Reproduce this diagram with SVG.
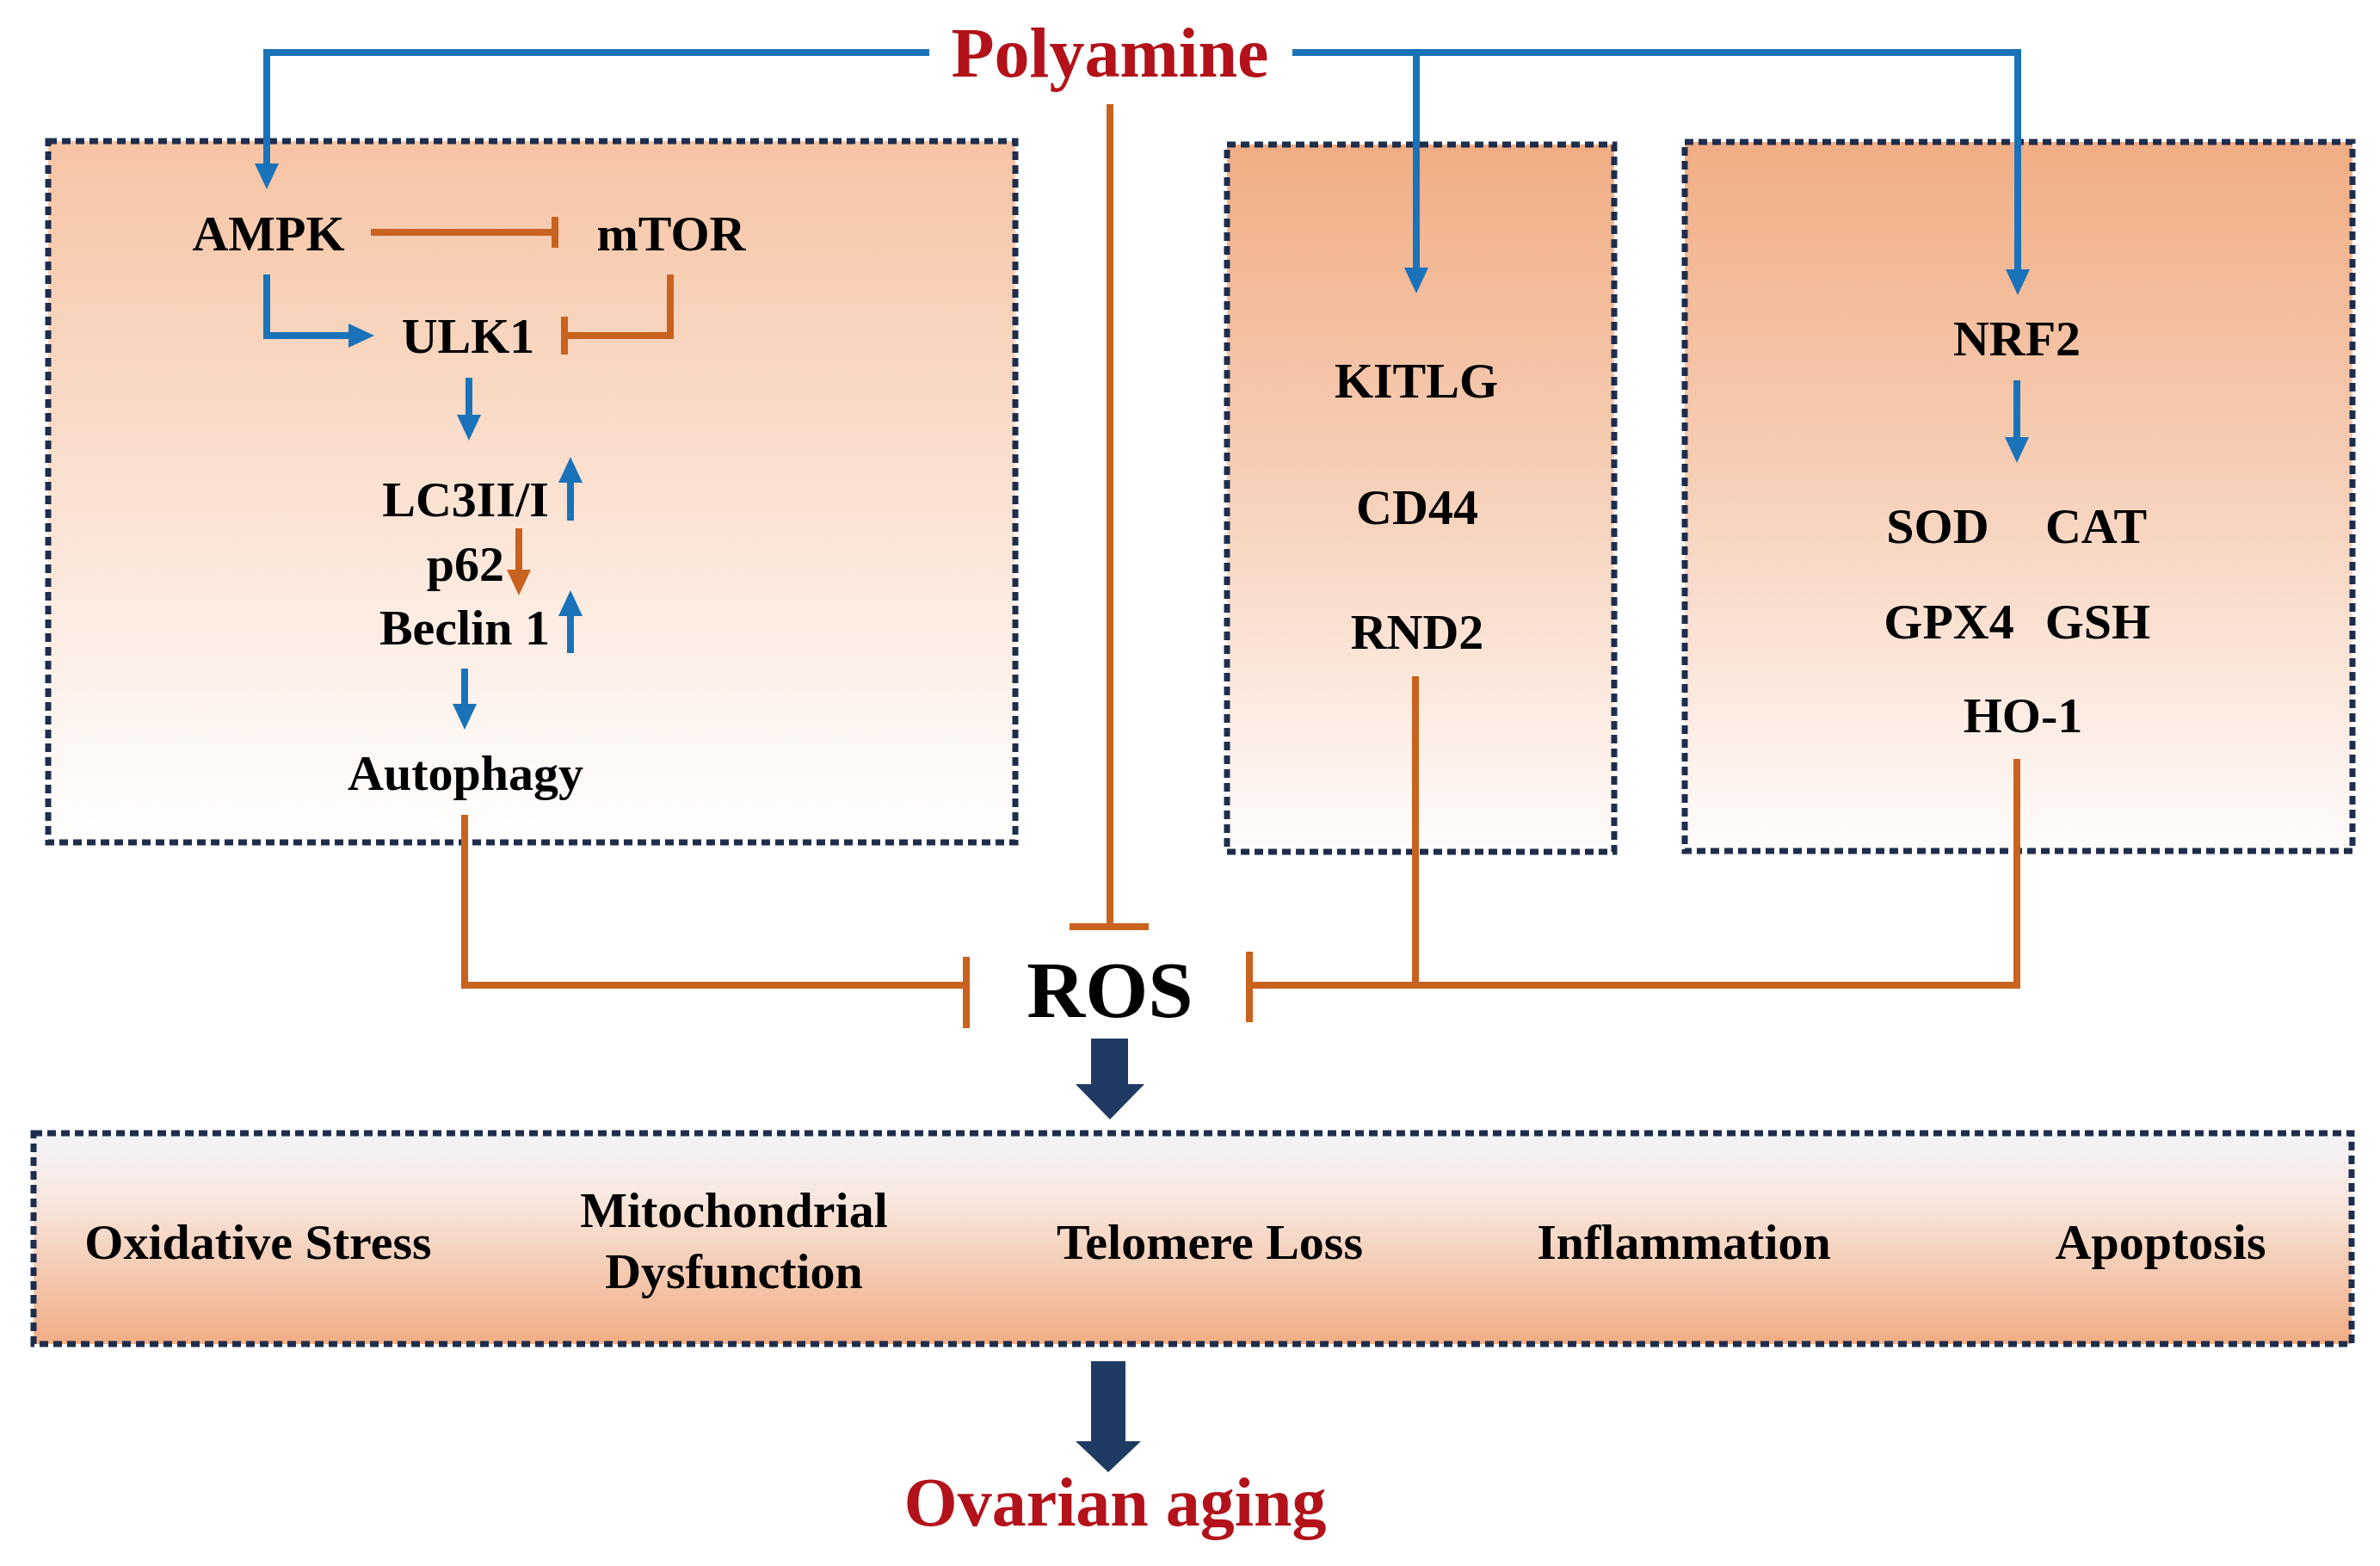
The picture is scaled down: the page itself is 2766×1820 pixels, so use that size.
<svg xmlns="http://www.w3.org/2000/svg" width="2766" height="1820" viewBox="0 0 2766 1820">
  <style>
    .t { font-family: "Liberation Serif", "Times New Roman", serif; font-weight: bold; fill: #000; text-anchor: middle; }
    .n { font-size: 58px; }
    .red { fill: #b3121a; }
    .box { stroke: #1f2d4d; stroke-width: 7; stroke-dasharray: 10 6; }
    .blue { fill: none; stroke: #1a73b9; stroke-width: 8; }
    .orange { fill: none; stroke: #c8621f; stroke-width: 8; }
  </style>
  <defs>
    <linearGradient id="gLeft" x1="0" y1="0" x2="0" y2="1">
      <stop offset="0" stop-color="#f6c4a4"/>
      <stop offset="1" stop-color="#ffffff"/>
    </linearGradient>
    <linearGradient id="gMid" x1="0" y1="0" x2="0" y2="1">
      <stop offset="0" stop-color="#f1ad84"/>
      <stop offset="0.45" stop-color="#f6cdb4"/>
      <stop offset="1" stop-color="#fffcfb"/>
    </linearGradient>
    <linearGradient id="gBot" x1="0" y1="0" x2="0" y2="1">
      <stop offset="0" stop-color="#f3f3f8"/>
      <stop offset="0.3" stop-color="#f8e8e0"/>
      <stop offset="1" stop-color="#f1ad84"/>
    </linearGradient>
    <marker id="ab" markerUnits="userSpaceOnUse" viewBox="0 0 30 28" markerWidth="30" markerHeight="28" refX="18" refY="14" orient="auto">
      <path d="M0,0 L30,14 L0,28 z" fill="#1a73b9"/>
    </marker>
    <marker id="ao" markerUnits="userSpaceOnUse" viewBox="0 0 30 28" markerWidth="30" markerHeight="28" refX="18" refY="14" orient="auto">
      <path d="M0,0 L30,14 L0,28 z" fill="#c8621f"/>
    </marker>
  </defs>

  <rect width="2766" height="1820" fill="#ffffff"/>

  <!-- boxes -->
  <g id="box-autophagy">
    <rect class="box" x="56" y="164" width="1124" height="815" fill="url(#gLeft)"/>
  </g>
  <g id="box-kitlg">
    <rect class="box" x="1426" y="168" width="450" height="822" fill="url(#gMid)"/>
  </g>
  <g id="box-nrf2">
    <rect class="box" x="1958" y="165" width="776" height="824" fill="url(#gMid)"/>
  </g>
  <g id="box-effects">
    <rect class="box" x="39" y="1317" width="2694" height="245" fill="url(#gBot)"/>
  </g>

  <!-- connectors -->
  <g id="connectors">
    <path class="blue" d="M1080,61 H310 V208" marker-end="url(#ab)"/>
    <path class="blue" d="M1502,61 H2345 V331" marker-end="url(#ab)"/>
    <path class="blue" d="M1646,61 V329" marker-end="url(#ab)"/>
    <path class="blue" d="M2344,442 V526" marker-end="url(#ab)"/>
    <path class="orange" d="M1290,121 V1077"/>
    <path class="orange" d="M1243,1077 H1335"/>
    <path class="orange" d="M431,270 H645"/>
    <path class="orange" d="M645,252 V288"/>
    <path class="blue" d="M310,319 V390 H423" marker-end="url(#ab)"/>
    <path class="orange" d="M779,319 V390 H656"/>
    <path class="orange" d="M656,368 V412"/>
    <path class="blue" d="M545,439 V500" marker-end="url(#ab)"/>
    <path class="blue" d="M663,605 V543" marker-end="url(#ab)"/>
    <path class="orange" d="M603,614 V680" marker-end="url(#ao)"/>
    <path class="blue" d="M663,759 V698" marker-end="url(#ab)"/>
    <path class="blue" d="M540,777 V836" marker-end="url(#ab)"/>
    <path class="orange" d="M540,947 V1145 H1123"/>
    <path class="orange" d="M1123,1112 V1195"/>
    <path class="orange" d="M1645,786 V1145"/>
    <path class="orange" d="M2344,882 V1145 H1452"/>
    <path class="orange" d="M1452,1106 V1188"/>
    <polygon fill="#1f3a63" points="1268,1207 1311,1207 1311,1260 1330,1260 1290,1301 1250,1260 1268,1260"/>
    <polygon fill="#1f3a63" points="1268,1582 1308,1582 1308,1675 1326,1675 1288,1711 1250,1675 1268,1675"/>
  </g>

  <!-- nodes -->
  <g id="polyamine"><text class="t red" x="1290" y="89" font-size="82">Polyamine</text></g>
  <g id="ampk"><text class="t n" x="312" y="291">AMPK</text></g>
  <g id="mtor"><text class="t n" x="780" y="291">mTOR</text></g>
  <g id="ulk1"><text class="t n" x="544" y="410">ULK1</text></g>
  <g id="lc3"><text class="t n" x="541" y="600">LC3II/I</text></g>
  <g id="p62"><text class="t n" x="541" y="675">p62</text></g>
  <g id="beclin1"><text class="t n" x="540" y="749">Beclin 1</text></g>
  <g id="autophagy"><text class="t n" x="541" y="918">Autophagy</text></g>
  <g id="kitlg"><text class="t n" x="1646" y="462">KITLG</text></g>
  <g id="cd44"><text class="t n" x="1647" y="609">CD44</text></g>
  <g id="rnd2"><text class="t n" x="1647" y="754">RND2</text></g>
  <g id="nrf2"><text class="t n" x="2344" y="413">NRF2</text></g>
  <g id="sod"><text class="t n" x="2252" y="631">SOD</text></g>
  <g id="cat"><text class="t n" x="2436" y="631">CAT</text></g>
  <g id="gpx4"><text class="t n" x="2265" y="742">GPX4</text></g>
  <g id="gsh"><text class="t n" x="2438" y="742">GSH</text></g>
  <g id="ho1"><text class="t n" x="2351" y="851">HO-1</text></g>
  <g id="ros"><text class="t" x="1290" y="1182" font-size="94">ROS</text></g>
  <g id="oxidative"><text class="t n" x="300" y="1463">Oxidative Stress</text></g>
  <g id="mito"><text class="t n" x="853" y="1426">Mitochondrial</text><text class="t n" x="853" y="1497">Dysfunction</text></g>
  <g id="telomere"><text class="t n" x="1406" y="1463">Telomere Loss</text></g>
  <g id="inflammation"><text class="t n" x="1957" y="1463">Inflammation</text></g>
  <g id="apoptosis"><text class="t n" x="2511" y="1463">Apoptosis</text></g>
  <g id="ovarian"><text class="t red" x="1296" y="1773" font-size="80">Ovarian aging</text></g>
</svg>
